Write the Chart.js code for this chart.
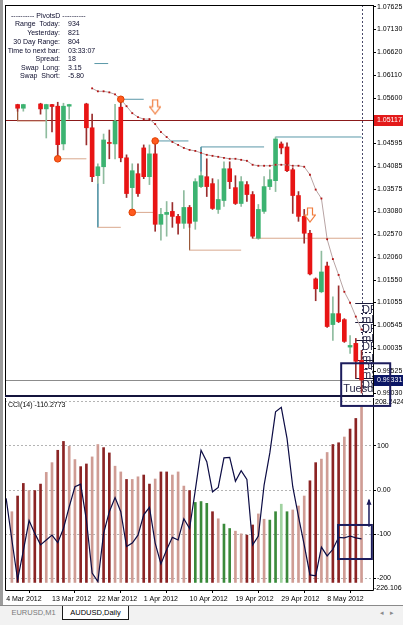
<!DOCTYPE html>
<html>
<head>
<meta charset="utf-8">
<title>AUDUSD,Daily</title>
<script src="https://cdn.jsdelivr.net/npm/chart.js@4.4.1/dist/chart.umd.min.js"></script>
<style>
  html, body { margin: 0; padding: 0; background: #fff; }
  body { width: 403px; height: 625px; position: relative; overflow: hidden; font-family: "Liberation Sans", Arial, sans-serif; }
  #main { position: absolute; left: 0; top: 0; z-index: 2; }
  #cci { position: absolute; left: 0; top: 384px; z-index: 1; }
  #edge { position: absolute; left: 0; top: 0; width: 3px; height: 605px; background: #9c9c9c; z-index: 4; }
  #info { position: absolute; left: 0; top: 0; z-index: 3; font-size: 7px; line-height: 8px; color: #0c0c2c; }
  #info div { position: absolute; white-space: pre; }
  #info .k { left: 0; width: 60px; text-align: right; }
  #info .v { left: 68px; }
  #cciLabel { position: absolute; left: 8px; top: 401px; font-size: 7px; line-height: 8px; color: #000; z-index: 3; }
  #tabs { position: absolute; left: 0; top: 605px; width: 403px; height: 20px; border-top: 1px solid #8a8a8a; background: #f2f2f2; font-size: 7.5px; z-index: 3; }
  .tab { position: absolute; top: 0; height: 13px; line-height: 13px; text-align: center; }
  #t1 { left: 5px; width: 57px; color: #7a7a7a; border-right: 1px solid #b0b0b0; }
  #t2 { left: 62px; width: 65px; color: #000; background: #fff; border: 1px solid #1a1a1a; border-top: none; }
  #arrows { position: absolute; right: 3px; top: 3px; color: #8a8a8a; font-size: 7px; letter-spacing: 6px; }
</style>
</head>
<body>
<div id="edge"></div>
<canvas id="main" width="403" height="412"></canvas>
<canvas id="cci" width="403" height="222"></canvas>

<div id="info">
  <div style="left:11px;top:12px">---------- PivotsD ----------</div>
  <div class="k" style="top:20px">Range  Today:</div><div class="v" style="top:20px">934</div>
  <div class="k" style="top:28.7px">Yesterday:</div><div class="v" style="top:28.7px">821</div>
  <div class="k" style="top:37.7px">30 Day Range:</div><div class="v" style="top:37.7px">804</div>
  <div class="k" style="top:46.7px">Time to next bar:</div><div class="v" style="top:46.7px">03:33:07</div>
  <div class="k" style="top:55.3px">Spread:</div><div class="v" style="top:55.3px">18</div>
  <div class="k" style="top:63.7px">Swap  Long:</div><div class="v" style="top:63.7px">3.15</div>
  <div class="k" style="top:72.3px">Swap  Short:</div><div class="v" style="top:72.3px">-5.80</div>
</div>
<div id="cciLabel">CCI(14) -110.2773</div>
<div id="tabs">
  <div class="tab" id="t1">EURUSD,M1</div>
  <div class="tab" id="t2">AUDUSD,Daily</div>
  <div id="arrows">◂▸</div>
</div>

<script>
// bars of the daily chart
const dateLabels = [
  '4 Mar 2012', '5 Mar 2012', '6 Mar 2012', '7 Mar 2012', '8 Mar 2012', '9 Mar 2012',
  '11 Mar 2012', '12 Mar 2012', '13 Mar 2012', '14 Mar 2012', '15 Mar 2012', '16 Mar 2012',
  '18 Mar 2012', '19 Mar 2012', '20 Mar 2012', '21 Mar 2012', '22 Mar 2012', '23 Mar 2012',
  '25 Mar 2012', '26 Mar 2012', '27 Mar 2012', '28 Mar 2012', '29 Mar 2012', '30 Mar 2012',
  '1 Apr 2012', '2 Apr 2012', '3 Apr 2012', '4 Apr 2012', '5 Apr 2012', '6 Apr 2012',
  '8 Apr 2012', '9 Apr 2012', '10 Apr 2012', '11 Apr 2012', '12 Apr 2012', '13 Apr 2012',
  '15 Apr 2012', '16 Apr 2012', '17 Apr 2012', '18 Apr 2012', '19 Apr 2012', '20 Apr 2012',
  '22 Apr 2012', '23 Apr 2012', '24 Apr 2012', '25 Apr 2012', '26 Apr 2012', '27 Apr 2012',
  '29 Apr 2012', '30 Apr 2012', '1 May 2012', '2 May 2012', '3 May 2012', '4 May 2012',
  '6 May 2012', '7 May 2012', '8 May 2012', '9 May 2012', '10 May 2012', '11 May 2012',
  '13 May 2012', '14 May 2012', '15 May 2012'
];
const dateTickIdx = [0, 8, 16, 24, 32, 40, 48, 56];

// OHLC (null = no candle visible)
const openP = [null, null, 1.05455, 1.05373, null, null, 1.05468, 1.05358, 1.05455, 1.05418,
  1.04579, 1.05418, null, null, 1.05468, 1.04938, 1.03872, 1.04071, 1.04612, 1.04579,
  1.05396, 1.04270, 1.03607, 1.03917, 1.04490, 1.03850, 1.04358, 1.02791, 1.03011, 1.03078,
  1.02967, 1.02813, 1.03166, 1.02857, 1.03630, 1.03850, 1.03696, 1.03122, 1.03320, 1.04027,
  1.03607, 1.03254, 1.03674, 1.03453, 1.02481, 1.03078, 1.03630, 1.03762, 1.04579, 1.04512,
  1.04005, 1.03431, 1.02967, 1.02592, 1.01577, 1.01290, 1.01863, 1.00561, 1.00804, 1.00671,
  1.00060, 1.00142, 0.99766];
const highP = [null, null, 1.05462, 1.05462, null, null, 1.05484, 1.05462, 1.05462, 1.05506,
  1.05484, 1.05462, null, null, 1.05484, 1.05241, 1.04137, 1.04799, 1.04888, 1.05462,
  1.05572, 1.04336, 1.04137, 1.04137, 1.04557, 1.04557, 1.04645, 1.03144, 1.03298, 1.03276,
  1.03011, 1.03541, 1.03210, 1.03806, 1.03960, 1.04248, 1.03806, 1.03784, 1.04181, 1.04181,
  1.03872, 1.03850, 1.03740, 1.03519, 1.03232, 1.03850, 1.04005, 1.04733, 1.04623, 1.04601,
  1.04049, 1.03519, 1.03122, 1.02658, 1.01599, 1.02194, 1.01952, 1.01179, 1.01422, 1.00693,
  1.00318, 1.00252, 0.99987];
const lowP = [null, null, 1.05307, 1.05307, null, null, 1.05241, 1.04711, 1.04844, 1.04248,
  1.04446, 1.05131, null, null, 1.04557, 1.03740, 1.03702, 1.03696, 1.04248, 1.04248,
  1.04181, 1.03387, 1.03056, 1.03409, 1.03806, 1.03674, 1.02636, 1.02437, 1.02526, 1.02724,
  1.02570, 1.02702, 1.02724, 1.02680, 1.03607, 1.03409, 1.03122, 1.03033, 1.03188, 1.03585,
  1.03232, 1.03188, 1.03298, 1.02481, 1.02459, 1.03033, 1.03563, 1.03519, 1.04358, 1.03961,
  1.03033, 1.02857, 1.02371, 1.01665, 1.01091, 1.01268, 1.00495, 1.00208, 1.00605, 1.00164,
  0.99921, 0.99369, 0.99038];
const closeP = [null, null, 1.05373, 1.05455, null, null, 1.05358, 1.05455, 1.05411, 1.04563,
  1.05418, 1.05455, null, null, 1.04938, 1.03850, 1.04071, 1.04667, 1.04590, 1.05086,
  1.04270, 1.03475, 1.03983, 1.03475, 1.03850, 1.04358, 1.02791, 1.03011, 1.03056, 1.02967,
  1.02813, 1.03166, 1.02813, 1.03740, 1.03872, 1.03630, 1.03144, 1.03343, 1.04027, 1.03740,
  1.03254, 1.03740, 1.03453, 1.02526, 1.03122, 1.03630, 1.03784, 1.04689, 1.04490, 1.03983,
  1.03431, 1.02967, 1.02592, 1.01687, 1.01356, 1.01731, 1.00517, 1.00804, 1.00627, 1.00186,
  1.00097, 0.99744, 0.99331];

// trailing stop dots, starting at bar 15
const trailStart = 15;
const trailVals = [1.05815, 1.05749, 1.05749, 1.05726, 1.05682, 1.05572, 1.05418, 1.05263,
  1.05175, 1.05131, 1.05131, 1.05020, 1.04844, 1.04733, 1.04623, 1.04557, 1.04490, 1.04446,
  1.04424, 1.04380, 1.04336, 1.04314, 1.04292, 1.04270, 1.04248, 1.04248, 1.04225, 1.04203,
  1.04115, 1.04093, 1.04093, 1.04093, 1.04115, 1.04115, 1.04115, 1.04093, 1.04093, 1.04071,
  1.03894, 1.03563, 1.03365, 1.02459, 1.02018, 1.01665, 1.01290, 1.01047, 1.00738, 1.00451];

// fractal dots and sell arrows
const fracIdx = [9, 20, 22, 26];
const fracPrice = [1.04248, 1.05572, 1.03056, 1.04645];
const arrowIdx = [26, 53];
const arrowPrice = [1.05407, 1.03000];

// horizontal pivot segments (from bar, to bar, price)
const hiFrom = [15.4, 20, 26, 34, 47];
const hiTo = [17.8, 24, 31.8, 45, 62];
const hiPrice = [1.06367, 1.05572, 1.04645, 1.04512, 1.04733];
const loFrom = [2, 9, 16, 22, 32, 43];
const loTo = [7, 14, 20, 26, 41, 62];
const loPrice = [1.05086, 1.04248, 1.02724, 1.03056, 1.02216, 1.02481];
// vertical connectors
const vIdx = [2, 16, 32, 34];
const vFrom = [1.05307, 1.03702, 1.02724, 1.04512];
const vTo = [1.05086, 1.02724, 1.02216, 1.03960];
const vKind = ['lo', 'hi', 'lo', 'hi'];

// daily pivot levels at the right edge
const pivotNames = ['DR3', 'mR3', 'DR2', 'mR2', 'DR1', 'mR1', 'DPP', 'mS1', 'DS1'];
const pivotLevels = [1.01031, 1.00811, 1.00627, 1.00406, 1.00208, 0.99949, 0.99782, 0.99589, 0.99369];
const dayName = 'Tuesday';

const levelPrice = 1.05117;
const bidPrice = 0.99331;
const priceTicks = [1.07625, 1.07130, 1.06620, 1.06110, 1.05600, 1.04595, 1.04085, 1.03575,
  1.03080, 1.02570, 1.02060, 1.01550, 1.01055, 1.00545, 1.00035, 0.99525, 0.99030];

// CCI(14) and the histogram under it
const cciVal = [-19, -113, -203, -137, -69, -98, -124, -113, -102, -119, -87, -38, 7.5, 13.5,
  -68, -188, -207, -98, -49, -17, -49, -128, -120, -102, -56, -39, -120, -167, -135, -107,
  -113, -65, -87, 0, 90, 64, -4, 6, 73, 74, 20, 44, 24, -124, -104, 11, 84, 177, 187, 117,
  7.5, -60, -124, -192, -194, -129, -149, -134, -107, -108, -104, -108, -110.2773];
const histVal = [null, -49, -13.5, 15, 0, 0, 13.5, 40, 62, 90, 110, 99, 69, 53, 59, 75, 103,
  96, 84, 54, 41, 24, 24, 30, 34, 13.5, 25, 41, 41, 34, 41, 9, 0, -28, -26, -30, -49, -65,
  -77, -87, -93, -99, -102, -79, -54, -66, -68, -49, -32, -49, -45, -36, -13.5, 21, 62, 70,
  85, 103, 107, 120, 138, 162, 188];
const histKind = '-LDDLDDLLDDLLDDLLDDLLDLLDDLDDLLLDGGGDLGGLLDDLLGGgGLLLDDLLDDLDDL'.split('');
const histBase = -209;
const cciTicks = [200, 100, 0, -100, -200];
const cciMax = 208.2424;
const cciMin = -226.106;

const xMin = -0.2, xMax = 64;
const UP = '#3cb371', DOWN = '#e81414';
const histColors = { D: '#8b2424', L: '#cf9c94', G: '#3a8a3a', g: '#a0d2a0' };
const FONT = '"Liberation Sans", Arial, sans-serif';

Chart.defaults.font.family = FONT;
Chart.defaults.font.size = 7;
Chart.defaults.animation = false;

const idx = dateLabels.map((d, i) => i);
const candleIdx = idx.filter(i => openP[i] !== null);
const isUp = i => closeP[i] >= openP[i];

function arrowImage() {
  const c = document.createElement('canvas');
  c.width = 12; c.height = 16;
  const g = c.getContext('2d');
  g.strokeStyle = '#f07a3a'; g.fillStyle = '#fff'; g.lineWidth = 1.2;
  g.beginPath();
  g.moveTo(3.5, 1); g.lineTo(8.5, 1); g.lineTo(8.5, 8); g.lineTo(11.4, 8);
  g.lineTo(6, 15); g.lineTo(0.6, 8); g.lineTo(3.5, 8); g.closePath();
  g.fill(); g.stroke();
  return c;
}

function segment(x0, y0, x1, y1, color, order) {
  return {
    type: 'line', data: [{ x: x0, y: y0 }, { x: x1, y: y1 }],
    borderColor: color, borderWidth: 1, pointRadius: 0, order: order
  };
}

const segs = [];
hiFrom.forEach((f, k) => segs.push(segment(f, hiPrice[k], hiTo[k], hiPrice[k], '#5a98a8', 4)));
loFrom.forEach((f, k) => segs.push(segment(f, loPrice[k], loTo[k], loPrice[k], '#d9a88e', 4)));
vIdx.forEach((v, k) => segs.push(segment(v, vFrom[k], v, vTo[k], vKind[k] === 'hi' ? '#5a98a8' : '#9a5a3a', 4)));

function hline(ctx, x0, x1, y, color) {
  ctx.strokeStyle = color;
  ctx.beginPath(); ctx.moveTo(x0, y); ctx.lineTo(x1, y); ctx.stroke();
}

const mainOverlay = {
  id: 'mainOverlay',
  beforeDatasetsDraw(chart) {
    const { ctx, chartArea: a, scales: { x, y } } = chart;
    ctx.save();
    ctx.lineWidth = 1;
    hline(ctx, a.left, a.right, Math.round(y.getPixelForValue(levelPrice)) + 0.5, '#8b1a1a');
    hline(ctx, a.left, a.right, Math.round(y.getPixelForValue(bidPrice)) + 0.5, '#8c8c8c');
    const px = Math.round(x.getPixelForValue(dateLabels.length - 1)) + 0.5;
    ctx.setLineDash([2, 2]);
    ctx.strokeStyle = '#4a4a6a';
    ctx.beginPath(); ctx.moveTo(px, a.top); ctx.lineTo(px, a.bottom); ctx.stroke();

    ctx.beginPath(); ctx.rect(a.left, a.top, a.right - a.left, a.bottom - a.top); ctx.clip();
    ctx.font = '11px ' + FONT;
    ctx.textBaseline = 'top';
    ctx.textAlign = 'left';
    pivotLevels.forEach((p, k) => {
      const py = Math.round(y.getPixelForValue(p)) + 0.5;
      const solid = pivotNames[k][0] === 'D';
      ctx.setLineDash(solid ? [] : [2, 2]);
      hline(ctx, x.getPixelForValue(solid ? 60.9 : 61.9), a.right, py, '#1a1a3a');
      ctx.fillStyle = '#2a2a4a';
      ctx.fillText(pivotNames[k], x.getPixelForValue(62.1), py + 1);
    });
    ctx.textBaseline = 'middle';
    ctx.fillText(dayName, x.getPixelForValue(58.8), y.getPixelForValue(0.99126));
    ctx.restore();
  },
  afterDraw(chart) {
    const { ctx, chartArea: a, scales: { x, y } } = chart;
    ctx.save();
    ctx.strokeStyle = '#000'; ctx.lineWidth = 1;
    ctx.strokeRect(a.left + 0.5, a.top + 0.5, a.right - a.left, a.bottom - a.top);
    ctx.fillStyle = '#14143c';
    ctx.fillRect(a.left, a.bottom - 1, a.right - a.left + 1, 2);

    ctx.font = '7px ' + FONT;
    ctx.textBaseline = 'middle'; ctx.textAlign = 'left';
    [[levelPrice, '#e31a1a'], [bidPrice, '#0b1665']].forEach(([p, bg]) => {
      const py = y.getPixelForValue(p);
      ctx.fillStyle = bg;
      ctx.fillRect(a.right + 1, Math.round(py) - 5, chart.width - a.right - 1, 11);
      ctx.fillStyle = '#fff';
      ctx.fillText(p.toFixed(5), a.right + 4, py + 0.5);
    });

    // marked area around the last bars
    ctx.strokeStyle = '#1c1c5c'; ctx.lineWidth = 2;
    const bx0 = x.getPixelForValue(58.45), bx1 = x.getPixelForValue(67.0);
    const by0 = y.getPixelForValue(0.99700), by1 = y.getPixelForValue(0.98751);
    ctx.strokeRect(bx0, by0, bx1 - bx0, by1 - by0);
    ctx.restore();
  }
};

const cciOverlay = {
  id: 'cciOverlay',
  afterDraw(chart) {
    const { ctx, chartArea: a, scales: { x, y } } = chart;
    ctx.save();
    ctx.strokeStyle = '#000'; ctx.lineWidth = 1;
    ctx.beginPath();
    ctx.moveTo(a.left + 0.5, a.top); ctx.lineTo(a.left + 0.5, a.bottom + 0.5);
    ctx.lineTo(a.right + 0.5, a.bottom + 0.5); ctx.lineTo(a.right + 0.5, a.top);
    ctx.stroke();

    ctx.font = '7px ' + FONT; ctx.fillStyle = '#000';
    ctx.textBaseline = 'middle'; ctx.textAlign = 'left';
    ctx.fillText(String(cciMax), a.right + 2, y.getPixelForValue(cciMax) + 4);
    ctx.fillText(String(cciMin), a.right + 1, y.getPixelForValue(cciMin) - 2);

    ctx.strokeStyle = '#1c1c5c'; ctx.lineWidth = 2;
    const bx0 = x.getPixelForValue(57.9), bx1 = x.getPixelForValue(63.8);
    const by0 = y.getPixelForValue(-79), by1 = y.getPixelForValue(-156);
    ctx.strokeRect(bx0, by0, bx1 - bx0, by1 - by0);
    const ax = x.getPixelForValue(63.3), ay0 = y.getPixelForValue(-83), ay1 = y.getPixelForValue(-22);
    ctx.lineWidth = 1.5;
    ctx.beginPath(); ctx.moveTo(ax, ay0); ctx.lineTo(ax, ay1); ctx.stroke();
    ctx.fillStyle = '#1c1c5c';
    ctx.beginPath(); ctx.moveTo(ax, ay1 - 1); ctx.lineTo(ax - 2.5, ay1 + 5); ctx.lineTo(ax + 2.5, ay1 + 5); ctx.closePath(); ctx.fill();
    ctx.restore();
  }
};

new Chart(document.getElementById('main'), {
  type: 'bar',
  data: {
    datasets: [
      {
        type: 'scatter', data: fracIdx.map((v, k) => ({ x: v, y: fracPrice[k] })),
        pointRadius: 3.3, backgroundColor: '#ff5a1f', borderColor: '#e04000', borderWidth: 1, order: 0
      },
      {
        type: 'scatter', data: arrowIdx.map((v, k) => ({ x: v, y: arrowPrice[k] })),
        pointStyle: arrowImage(), order: 0
      },
      {
        type: 'line', data: trailVals.map((v, k) => ({ x: trailStart + k, y: v })),
        borderColor: '#b8a4a4', borderWidth: 1, pointStyle: 'rect', pointRadius: 1.3,
        pointBackgroundColor: '#b41414', pointBorderWidth: 0, order: 1
      },
      {
        data: candleIdx.map(i => ({ x: i, y: [openP[i], closeP[i]] })),
        barThickness: 4, grouped: false, minBarLength: 1, borderWidth: 0,
        backgroundColor: c => isUp(c.raw.x) ? UP : DOWN, order: 2
      },
      {
        data: candleIdx.map(i => ({ x: i, y: [lowP[i], highP[i]] })),
        barThickness: 1, grouped: false, borderWidth: 0,
        backgroundColor: c => isUp(c.raw.x) ? '#8fbc9f' : '#9b2d2d', order: 3
      },
      ...segs
    ]
  },
  options: {
    responsive: false,
    layout: { padding: { left: 5, top: 2, right: 0, bottom: 16 } },
    plugins: { legend: { display: false }, tooltip: { enabled: false } },
    scales: {
      x: { type: 'linear', min: xMin, max: xMax, offset: false, display: false },
      y: {
        type: 'linear', position: 'right', min: 0.98972, max: 1.07669, stacked: false,
        afterBuildTicks: s => { s.ticks = priceTicks.map(v => ({ value: v })); },
        afterFit: s => { s.width = 30; s.paddingTop = 0; s.paddingBottom = 0; },
        ticks: { autoSkip: false, padding: 1, color: '#000', callback: v => v.toFixed(5) },
        grid: { drawOnChartArea: false, drawTicks: true, tickLength: 3, tickColor: '#000' },
        border: { display: false }
      }
    }
  },
  plugins: [mainOverlay]
});

new Chart(document.getElementById('cci'), {
  type: 'bar',
  data: {
    datasets: [
      {
        type: 'line', data: idx.map(i => ({ x: i, y: cciVal[i] })),
        borderColor: '#0c0c44', borderWidth: 1.2, pointRadius: 0, order: 0
      },
      {
        data: idx.filter(i => histVal[i] !== null).map(i => ({ x: i, y: [histBase, histVal[i]] })),
        barThickness: 2, grouped: false, borderWidth: 0,
        backgroundColor: c => histColors[histKind[c.raw.x]], order: 1
      }
    ]
  },
  options: {
    responsive: false,
    layout: { padding: { left: 5, top: 14, right: 0, bottom: 0 } },
    plugins: { legend: { display: false }, tooltip: { enabled: false } },
    scales: {
      x: {
        type: 'linear', min: xMin, max: xMax, offset: false,
        afterBuildTicks: s => { s.ticks = dateTickIdx.map(v => ({ value: v })); },
        afterFit: s => { s.height = 16; s.paddingLeft = 0; s.paddingRight = 0; },
        ticks: {
          autoSkip: false, maxRotation: 0, minRotation: 0, align: 'start', padding: 2,
          color: '#000', callback: v => dateLabels[v]
        },
        grid: { drawOnChartArea: false, drawTicks: true, tickLength: 3, tickColor: '#000' },
        border: { display: false }
      },
      y: {
        type: 'linear', position: 'right', min: cciMin, max: cciMax, stacked: false,
        afterBuildTicks: s => { s.ticks = cciTicks.map(v => ({ value: v })); },
        afterFit: s => { s.width = 30; s.paddingTop = 0; s.paddingBottom = 0; },
        ticks: {
          autoSkip: false, padding: 1, color: '#000',
          callback: v => v === 200 ? '' : (v === 0 ? '0.00' : String(v))
        },
        grid: {
          color: '#b4b4b4', drawTicks: true, tickLength: 3,
          tickColor: c => (c.tick && c.tick.value === 200) ? 'rgba(0,0,0,0)' : '#000'
        },
        border: { display: false, dash: [2, 2] }
      }
    }
  },
  plugins: [cciOverlay]
});
</script>
</body>
</html>
